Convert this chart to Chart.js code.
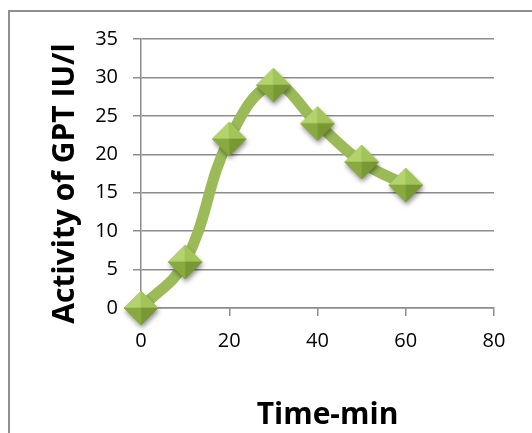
<!DOCTYPE html>
<html>
<head>
<meta charset="utf-8">
<script src="https://cdn.jsdelivr.net/npm/chart.js@4/dist/chart.umd.min.js"></script>
<style>
  html, body { margin: 0; padding: 0; background: #fff; overflow: hidden; }
  #frame {
    position: absolute; left: 8px; top: 10px;
    width: 700px; height: 600px;
    border: 2px solid #8f8f8f; box-sizing: border-box;
  }
  #wrap { position: absolute; left: 0; top: 0; width: 532px; height: 433px; }
</style>
</head>
<body>
<div id="frame"></div>
<div id="wrap"><canvas id="chart" width="532" height="433"></canvas></div>
<script>
// Sampling times (min) and measured GPT activity (IU/l)
const timeMin = [0, 10, 20, 30, 40, 50, 60];
const gptActivity = [0, 6, 22, 29, 24, 19, 16];

// Axis tick values
const xTickValues = [0, 20, 40, 60, 80];
const yTickValues = [0, 5, 10, 15, 20, 25, 30, 35];

// Axis captions
const xAxisTitle = 'Time-min';
const yAxisTitle = 'Activity of GPT IU/l';

const GREEN = '#9bbb59';
const GRID = '#8c8c8c';
const FONT = '"Open Sans", "DejaVu Sans", sans-serif';

// Bevelled diamond marker with a soft drop shadow
function makeDiamond(r) {
  const pad = 8;
  const size = 2 * (r + pad);
  const c = document.createElement('canvas');
  c.width = size; c.height = size;
  const g = c.getContext('2d');
  const cx = size / 2, cy = size / 2;
  const L = [cx - r, cy], T = [cx, cy - r], R = [cx + r, cy], B = [cx, cy + r], C = [cx, cy];
  // shadow
  g.save();
  g.shadowColor = 'rgba(0,0,0,0.45)';
  g.shadowBlur = 5;
  g.shadowOffsetY = 3;
  g.shadowOffsetX = 1;
  g.beginPath();
  g.moveTo(...L); g.lineTo(...T); g.lineTo(...R); g.lineTo(...B); g.closePath();
  g.fillStyle = '#86a640';
  g.fill();
  g.restore();
  const facet = (a, b, col) => {
    g.beginPath(); g.moveTo(...a); g.lineTo(...b); g.lineTo(...C); g.closePath();
    g.fillStyle = col; g.fill();
    g.strokeStyle = col; g.lineWidth = 0.6; g.stroke();
  };
  facet(L, T, '#b4d36c');
  facet(T, R, '#a2c55a');
  facet(R, B, '#789833');
  facet(B, L, '#88aa40');
  return c;
}
const diamond = makeDiamond(17);

// Axis captions drawn in the surrounding frame
const axisCaptions = {
  id: 'axisCaptions',
  afterDraw(chart) {
    const { ctx, chartArea } = chart;
    ctx.save();
    ctx.fillStyle = '#000';
    ctx.textAlign = 'center';
    ctx.textBaseline = 'alphabetic';
    ctx.font = 'bold 30px ' + FONT;
    ctx.fillText(xAxisTitle, (chartArea.left + chartArea.right) / 2 + 10, 424);
    ctx.translate(74, (chartArea.top + chartArea.bottom) / 2 + 10);
    ctx.rotate(-Math.PI / 2);
    ctx.font = 'bold 30px ' + FONT;
    ctx.fillText(yAxisTitle, 0, 0);
    ctx.restore();
  }
};

new Chart(document.getElementById('chart'), {
  type: 'line',
  data: {
    datasets: [{
      data: timeMin.map((t, i) => ({ x: t, y: gptActivity[i] })),
      borderColor: GREEN,
      borderWidth: 11,
      tension: 0.4,
      fill: false,
      pointStyle: diamond,
      pointRadius: 17,
      pointHoverRadius: 17,
      clip: false
    }]
  },
  options: {
    responsive: false,
    animation: false,
    events: [],
    layout: { padding: { left: 0, top: 39, right: 38, bottom: 0 } },
    plugins: { legend: { display: false }, tooltip: { enabled: false } },
    scales: {
      x: {
        type: 'linear',
        min: 0, max: 80,
        afterBuildTicks: s => { s.ticks = xTickValues.map(v => ({ value: v })); },
        afterFit: s => { s.height = 125; },
        grid: { drawOnChartArea: false, drawTicks: true, tickLength: 8, color: GRID, lineWidth: 1.5 },
        border: { display: true, color: GRID, width: 1.5 },
        ticks: { color: '#000', font: { family: FONT, size: 20 }, padding: 13, maxRotation: 0 }
      },
      y: {
        min: 0, max: 35,
        afterBuildTicks: s => { s.ticks = yTickValues.map(v => ({ value: v })); },
        afterFit: s => { s.width = 141; },
        grid: { drawOnChartArea: true, drawTicks: true, tickLength: 8, color: GRID, lineWidth: 1.5 },
        border: { display: true, color: GRID, width: 1.5 },
        ticks: { color: '#000', font: { family: FONT, size: 20 }, padding: 15 }
      }
    }
  },
  plugins: [axisCaptions]
});
</script>
</body>
</html>
